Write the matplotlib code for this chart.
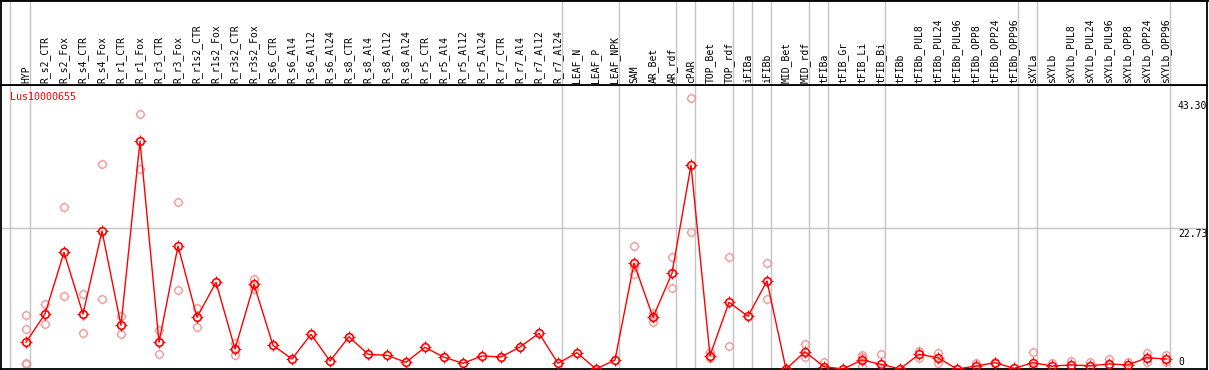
import matplotlib
matplotlib.use("Agg")
import matplotlib.pyplot as plt
from matplotlib.path import Path
from matplotlib.transforms import blended_transform_factory, offset_copy

categories = [
    "HYP", "R_s2_CTR", "R_s2_Fox", "R_s4_CTR", "R_s4_Fox", "R_r1_CTR", "R_r1_Fox",
    "R_r3_CTR", "R_r3_Fox", "R_r1s2_CTR", "R_r1s2_Fox", "R_r3s2_CTR", "R_r3s2_Fox",
    "R_s6_CTR", "R_s6_Al4", "R_s6_Al12", "R_s6_Al24", "R_s8_CTR", "R_s8_Al4",
    "R_s8_Al12", "R_s8_Al24", "R_r5_CTR", "R_r5_Al4", "R_r5_Al12", "R_r5_Al24",
    "R_r7_CTR", "R_r7_Al4", "R_r7_Al12", "R_r7_Al24", "LEAF_N", "LEAF_P", "LEAF_NPK",
    "SAM", "AR_Bet", "AR_rdf", "cPAR", "TOP_Bet", "TOP_rdf", "iFIBa", "iFIBb",
    "MID_Bet", "MID_rdf", "tFIBa", "tFIB_Gr", "tFIB_Li", "tFIB_Bi", "tFIBb",
    "tFIBb_PUL8", "tFIBb_PUL24", "tFIBb_PUL96", "tFIBb_OPP8", "tFIBb_OPP24",
    "tFIBb_OPP96", "sXYLa", "sXYLb", "sXYLb_PUL8", "sXYLb_PUL24", "sXYLb_PUL96",
    "sXYLb_OPP8", "sXYLb_OPP24", "sXYLb_OPP96",
]

mean_values = [
    4.31, 8.87, 18.82, 8.87, 22.26, 7.05, 36.77, 4.31, 19.84, 8.34, 13.98, 3.23, 13.66,
    3.82, 1.61, 5.60, 1.29, 5.21, 2.37, 2.21, 1.08, 3.50, 1.89, 0.92, 2.10,
    1.94, 3.55, 5.76, 0.92, 2.63, 0.0, 1.45,
    17.05, 8.34, 15.44, 32.90, 2.15, 10.76, 8.50, 14.19,
    0.0, 2.79, 0.37, 0.0, 1.45, 0.76, 0.0,
    2.37, 1.82, 0.0, 0.48, 1.02, 0.10,
    1.02, 0.48, 0.65, 0.53, 0.81, 0.65, 1.82, 1.61,
]

replicate_values = [
    [8.71, 6.40, 1.02, 0.81], [10.48, 7.21], [26.13, 11.73], [12.10, 5.76],
    [33.02, 11.24], [8.55, 5.60], [41.13, 32.31], [6.29, 2.37], [26.89, 12.69],
    [9.79, 6.73], [], [4.15, 2.26], [14.47, 12.85],
    [], [], [], [], [], [], [], [], [], [], [], [],
    [], [], [], [], [], [], [],
    [19.84, 16.40, 15.27], [8.98, 8.40, 7.63], [18.02, 13.02], [43.66, 22.05],
    [2.79, 1.73], [18.02, 3.71], [], [17.05, 11.24],
    [], [3.98, 1.98], [1.18, 0.0], [], [2.26, 1.98, 0.48], [2.37, 0.0], [],
    [2.95, 1.82], [2.53, 1.02], [], [1.02, 0.0], [1.18], [],
    [2.79, 0.10], [0.92], [1.34], [1.18], [1.61], [1.08], [2.63, 1.18], [2.26, 1.18],
]

group_end_index = [0, 28, 31, 34, 35, 37, 38, 39, 41, 42, 45, 52, 53, 60]
gene_name = "Lus10000655"
ytick_values = [43.30, 22.73, 0]
ytick_labels = ["43.30", "22.73", "0"]
grid_y_values = [22.73]

W, H = 1209, 370
fig = plt.figure(figsize=(W / 100, H / 100), dpi=100)
fig.patch.set_facecolor("white")

mono = "DejaVu Sans Mono"
RED = "#ff0000"
PINK = "#ef9a9a"
GRID = "#c4c4c4"

x_left_px, x_right_px = 1, 1207
sep_px, bottom_px = 85, 369
px_per_cat = 19.0
first_px = 26
xlim = (-(first_px - x_left_px) / px_per_cat,
        (x_right_px - x_left_px - (first_px - x_left_px)) / px_per_cat)

ax = fig.add_axes([x_left_px / W, 1 - bottom_px / H,
                   (x_right_px - x_left_px) / W, (bottom_px - sep_px) / H])
axt = fig.add_axes([x_left_px / W, 1 - sep_px / H,
                    (x_right_px - x_left_px) / W, sep_px / H])

px_per_unit = 6.2
ax.set_xlim(*xlim)
ax.set_ylim(0, (bottom_px - sep_px) / px_per_unit)
axt.set_xlim(*xlim)
axt.set_ylim(0, 1)

for a in (ax, axt):
    a.set_xticks([])
    a.set_yticks([])
    for s in a.spines.values():
        s.set_color("black")
        s.set_linewidth(1.3)

# grid lines
off = 4 / px_per_cat
vlines = [-16 / px_per_cat] + [g + off for g in group_end_index]
for xv in vlines:
    ax.axvline(xv, color=GRID, lw=1.0, zorder=0)
    axt.axvline(xv, color=GRID, lw=1.0, zorder=0)
for gy in grid_y_values:
    ax.axhline(gy, color=GRID, lw=1.0, zorder=0)

# marker with ticks
tick_path = Path(
    [(0, 0.7), (0, 1), (0, -0.7), (0, -1), (0.7, 0), (1, 0), (-0.7, 0), (-1, 0)],
    [Path.MOVETO, Path.LINETO] * 4,
)

xs = list(range(len(categories)))
rx, ry = [], []
for i, reps in enumerate(replicate_values):
    for r in reps:
        rx.append(i)
        ry.append(r)

ax.plot(rx, ry, linestyle="none", marker="o", ms=5.4, mfc="none", mec=PINK, mew=1.0, zorder=2)
ax.plot(rx, ry, linestyle="none", marker=tick_path, ms=7.6, mec=PINK, mew=0.8, zorder=2)

ax.plot(xs, mean_values, color=RED, lw=1.0, zorder=3)
ax.plot(xs, mean_values, linestyle="none", marker="o", ms=5.5, mfc="none", mec=RED, mew=1.2, zorder=4)
ax.plot(xs, mean_values, linestyle="none", marker=tick_path, ms=8.0, mec=RED, mew=0.9, zorder=4)

# category labels
lab_bottom = (sep_px - 83) / sep_px
for i, c in enumerate(categories):
    axt.text(i, lab_bottom, c, rotation=90, ha="center", va="bottom",
             family=mono, fontsize=7.0, color="black")

# gene name
ax.text(9 / (x_right_px - x_left_px), 1 - (97 - sep_px) / (bottom_px - sep_px),
        gene_name, transform=ax.transAxes, ha="left", va="center",
        family=mono, fontsize=7.2, color=RED)

# right value labels
trans = blended_transform_factory(fig.transFigure, ax.transData)
for v, lab in zip(ytick_values, ytick_labels):
    if v == 0:
        t = offset_copy(trans, fig=fig, x=0, y=7, units="dots")
    else:
        t = offset_copy(trans, fig=fig, x=0, y=-5.5, units="dots")
    fig.text(1178 / W, v, lab, transform=t, ha="left", va="center",
             family=mono, fontsize=7.0, color="black")

# top border line
fig.add_artist(plt.Line2D([0, 1], [1 - 0.5 / H, 1 - 0.5 / H], color="black", lw=1.3,
                          transform=fig.transFigure))

fig.savefig("out.png", dpi=100)
